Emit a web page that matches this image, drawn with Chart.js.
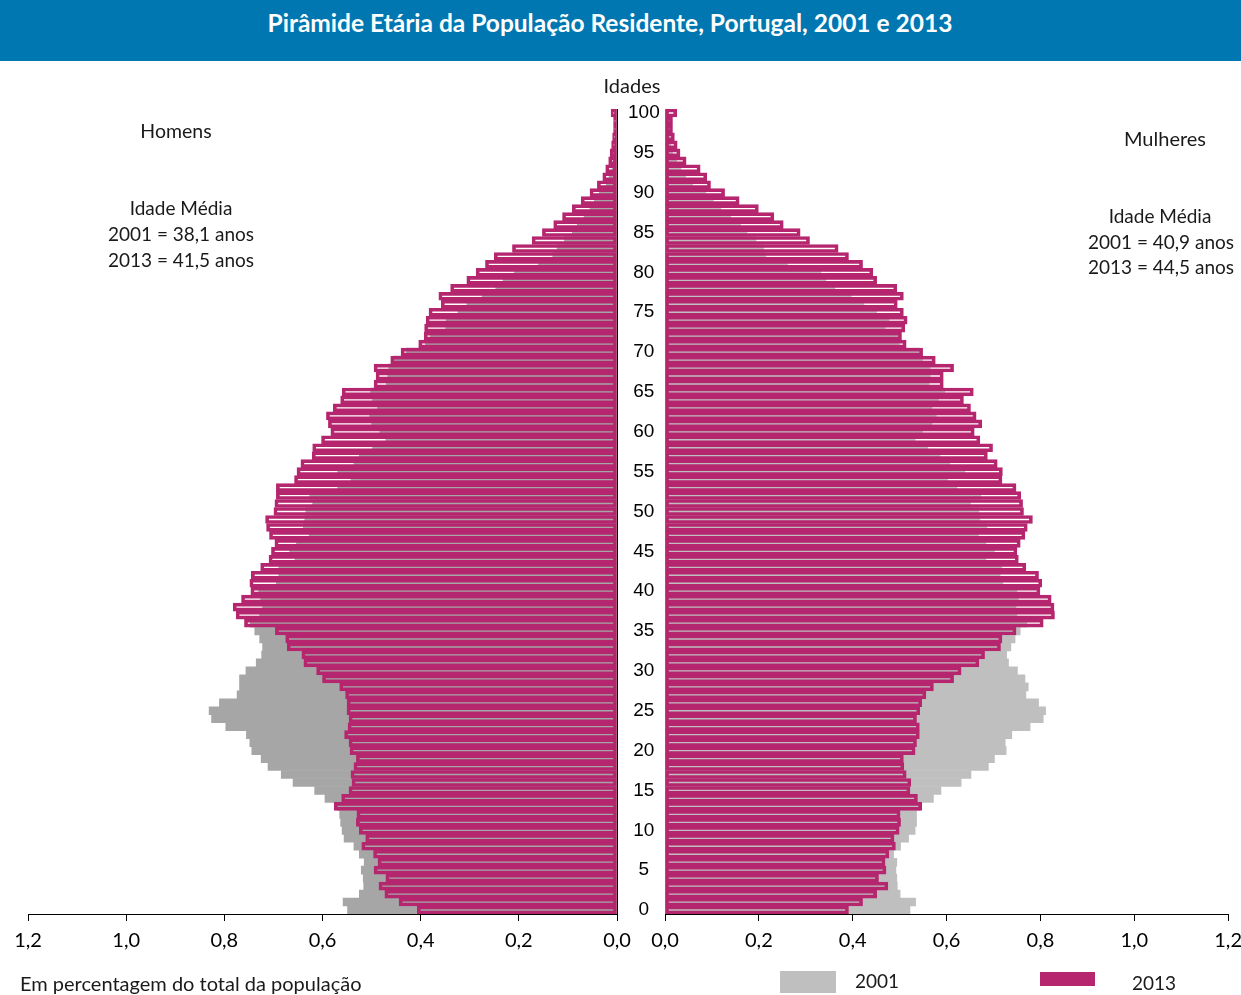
<!DOCTYPE html>
<html>
<head>
<meta charset="utf-8">
<title>Pirâmide Etária da População Residente, Portugal, 2001 e 2013</title>
<script src="https://cdn.jsdelivr.net/npm/chart.js@4.4.1/dist/chart.umd.min.js"></script>
<style>
    body { margin: 0; width: 1241px; height: 995px; position: relative; overflow: hidden; background: #fff; font-family: Lato, "Liberation Sans", sans-serif; color: #1a1a1a; }
    #titleBar { position: absolute; left: 0; top: 0; width: 1241px; height: 61px; background: #0077b1; }
    .txt { position: absolute; white-space: nowrap; line-height: 1; font-size: 19px; transform: translate(-50%, -50%); }
    .left { transform: translate(0, -50%); }
    .swatch { position: absolute; }
    canvas { position: absolute; top: 60px; }
</style>
</head>
<body>
<div id="titleBar"></div>
<div class="txt" style="left:610px;top:23px;color:#fff;font-weight:bold;font-size:24.5px;">Pirâmide Etária da População Residente, Portugal, 2001 e 2013</div>

<canvas id="homensChart" width="665" height="935" style="left:0;"></canvas>
<canvas id="mulheresChart" width="630" height="935" style="left:620px;"></canvas>

<div class="txt" style="left:632px;top:85px;font-size:20px;">Idades</div>
<div class="txt" style="left:176px;top:131px;font-size:19.5px;">Homens</div>
<div class="txt" style="left:181px;top:207px;">Idade Média</div>
<div class="txt" style="left:181px;top:233px;">2001 = 38,1 anos</div>
<div class="txt" style="left:181px;top:259px;">2013 = 41,5 anos</div>
<div class="txt" style="left:1165px;top:138px;font-size:20px;">Mulheres</div>
<div class="txt" style="left:1160px;top:215px;">Idade Média</div>
<div class="txt" style="left:1161px;top:241px;">2001 = 40,9 anos</div>
<div class="txt" style="left:1161px;top:266px;">2013 = 44,5 anos</div>

<div class="txt left" style="left:20px;top:983px;font-size:20px;">Em percentagem do total da população</div>
<div class="swatch" style="left:780px;top:971px;width:56px;height:22px;background:#bfbfbf;"></div>
<div class="txt" style="left:877px;top:980px;">2001</div>
<div class="swatch" style="left:1040px;top:972px;width:55px;height:14px;background:#b5266f;"></div>
<div class="txt" style="left:1154px;top:982px;">2013</div>

<script>
'use strict';

// idades 0..100 (a de 100 inclui 100 e mais)
var IDADES = [0, 1, 2, 3, 4, 5, 6, 7, 8, 9, 10, 11, 12, 13, 14, 15, 16, 17, 18, 19, 20,
    21, 22, 23, 24, 25, 26, 27, 28, 29, 30, 31, 32, 33, 34, 35, 36, 37, 38, 39, 40,
    41, 42, 43, 44, 45, 46, 47, 48, 49, 50, 51, 52, 53, 54, 55, 56, 57, 58, 59, 60,
    61, 62, 63, 64, 65, 66, 67, 68, 69, 70, 71, 72, 73, 74, 75, 76, 77, 78, 79, 80,
    81, 82, 83, 84, 85, 86, 87, 88, 89, 90, 91, 92, 93, 94, 95, 96, 97, 98, 99, 100];

// idades com etiqueta no eixo
var IDADES_ETIQUETA = [0, 5, 10, 15, 20, 25, 30, 35, 40, 45, 50, 55, 60, 65, 70, 75, 80, 85, 90, 95, 100];

// % do total da populacao, por idade (0..100)
var HOMENS_2001 = [0.549, 0.558, 0.525, 0.516, 0.517, 0.521, 0.515, 0.525, 0.536, 0.556,
    0.560, 0.563, 0.565, 0.570, 0.595, 0.616, 0.660, 0.684, 0.711, 0.725,
    0.744, 0.748, 0.755, 0.797, 0.826, 0.831, 0.810, 0.774, 0.769, 0.769,
    0.756, 0.735, 0.724, 0.722, 0.728, 0.738, 0.747, 0.728, 0.722, 0.726,
    0.730, 0.694, 0.689, 0.689, 0.656, 0.667, 0.653, 0.627, 0.639, 0.636,
    0.634, 0.620, 0.626, 0.569, 0.542, 0.569, 0.536, 0.525, 0.498, 0.471,
    0.483, 0.500, 0.504, 0.488, 0.498, 0.502, 0.470, 0.467, 0.465, 0.454,
    0.429, 0.390, 0.380, 0.349, 0.348, 0.324, 0.306, 0.275, 0.247, 0.232,
    0.209, 0.160, 0.131, 0.122, 0.107, 0.091, 0.081, 0.067, 0.055, 0.046,
    0.036, 0.022, 0.016, 0.010, 0.008, 0.006, 0.005, 0.004, 0.003, 0.002, 0.003];

var HOMENS_2013 = [0.407, 0.444, 0.473, 0.485, 0.471, 0.495, 0.487, 0.496, 0.520, 0.512,
    0.525, 0.531, 0.530, 0.576, 0.561, 0.546, 0.540, 0.542, 0.536, 0.531,
    0.544, 0.546, 0.555, 0.548, 0.546, 0.550, 0.550, 0.553, 0.565, 0.600,
    0.612, 0.638, 0.642, 0.672, 0.675, 0.696, 0.759, 0.776, 0.782, 0.765,
    0.746, 0.748, 0.745, 0.726, 0.709, 0.704, 0.697, 0.708, 0.714, 0.716,
    0.699, 0.697, 0.694, 0.694, 0.657, 0.652, 0.644, 0.621, 0.620, 0.602,
    0.583, 0.588, 0.592, 0.578, 0.563, 0.560, 0.495, 0.491, 0.495, 0.461,
    0.440, 0.404, 0.393, 0.392, 0.389, 0.383, 0.358, 0.363, 0.339, 0.306,
    0.287, 0.268, 0.250, 0.213, 0.173, 0.152, 0.129, 0.111, 0.091, 0.073,
    0.055, 0.040, 0.029, 0.023, 0.017, 0.014, 0.011, 0.009, 0.007, 0.007, 0.012];

var MULHERES_2001 = [0.522, 0.534, 0.501, 0.495, 0.494, 0.492, 0.494, 0.487, 0.502, 0.519,
    0.533, 0.536, 0.536, 0.543, 0.572, 0.588, 0.631, 0.652, 0.689, 0.702,
    0.727, 0.725, 0.739, 0.778, 0.806, 0.811, 0.796, 0.769, 0.774, 0.767,
    0.751, 0.732, 0.728, 0.737, 0.746, 0.757, 0.771, 0.750, 0.748, 0.753,
    0.750, 0.720, 0.714, 0.718, 0.684, 0.702, 0.684, 0.668, 0.686, 0.671,
    0.669, 0.651, 0.673, 0.622, 0.602, 0.639, 0.607, 0.586, 0.560, 0.533,
    0.549, 0.569, 0.578, 0.569, 0.583, 0.596, 0.563, 0.565, 0.565, 0.549,
    0.542, 0.499, 0.497, 0.469, 0.477, 0.451, 0.424, 0.397, 0.362, 0.343,
    0.332, 0.261, 0.215, 0.210, 0.194, 0.175, 0.161, 0.140, 0.119, 0.103,
    0.087, 0.059, 0.044, 0.034, 0.025, 0.016, 0.012, 0.011, 0.008, 0.007, 0.005];

var MULHERES_2013 = [0.391, 0.421, 0.451, 0.475, 0.455, 0.471, 0.469, 0.477, 0.491, 0.488,
    0.499, 0.502, 0.501, 0.547, 0.538, 0.522, 0.524, 0.514, 0.509, 0.508,
    0.533, 0.536, 0.542, 0.542, 0.536, 0.543, 0.547, 0.556, 0.572, 0.615,
    0.631, 0.669, 0.681, 0.715, 0.718, 0.748, 0.806, 0.830, 0.829, 0.823,
    0.799, 0.803, 0.796, 0.769, 0.753, 0.750, 0.757, 0.767, 0.772, 0.783,
    0.764, 0.762, 0.758, 0.748, 0.718, 0.719, 0.708, 0.687, 0.698, 0.671,
    0.659, 0.675, 0.663, 0.651, 0.636, 0.657, 0.593, 0.593, 0.615, 0.576,
    0.549, 0.514, 0.504, 0.511, 0.516, 0.508, 0.495, 0.508, 0.494, 0.451,
    0.443, 0.421, 0.391, 0.369, 0.308, 0.288, 0.252, 0.232, 0.199, 0.158,
    0.127, 0.097, 0.089, 0.075, 0.045, 0.032, 0.026, 0.020, 0.016, 0.016, 0.025];

var MAGENTA = '#b5266f';
var CINZA_HOMENS = '#a6a6a6';
var CINZA_MULHERES = '#bfbfbf';
var FONTE = 'Lato, "Liberation Sans", sans-serif';

//formats 0.2 -> "0,2"
function formatPercent(value){
    return Number(value).toFixed(1).replace('.', ',');
}

//2013 drawn as an outline on top of the 2001 bars
function buildDatasets(dados2013, dados2001, cinza){
    var comum = {
        grouped: false,
        barPercentage: 1,
        categoryPercentage: 1
    };

    return [
        Object.assign({
            label: '2013',
            data: dados2013,
            backgroundColor: 'rgba(0,0,0,0)',
            borderColor: MAGENTA,
            borderWidth: 3,
            borderSkipped: false,
            order: 0
        }, comum),
        Object.assign({
            label: '2001',
            data: dados2001,
            backgroundColor: cinza,
            borderWidth: 0,
            order: 1
        }, comum)
    ];
}

function xScale(reverse){
    return {
        reverse: reverse,
        min: 0,
        max: 1.2,
        ticks: {
            stepSize: 0.2,
            callback: formatPercent,
            color: '#000',
            padding: 8,
            maxRotation: 0,
            font: { family: FONTE, size: 20 }
        },
        grid: { drawOnChartArea: false, drawTicks: true, tickLength: 7, color: '#000' },
        border: { color: '#000', width: 1 },
        afterFit: function(scale){ scale.height = 81; }
    };
}


/*
********************************************************************************************************************************
*/

//homens: eixo invertido, idades no lado direito
var homensChart = new Chart(document.getElementById('homensChart').getContext('2d'), {
    type: 'bar',
    data: {
        labels: IDADES,
        datasets: buildDatasets(HOMENS_2013, HOMENS_2001, CINZA_HOMENS)
    },
    options: {
        indexAxis: 'y',
        responsive: false,
        animation: false,
        layout: { padding: { left: 28, top: 49, right: 0, bottom: 0 } },
        plugins: { legend: { display: false }, tooltip: { enabled: false } },
        scales: {
            x: xScale(true),
            y: {
                position: 'right',
                reverse: true,
                ticks: {
                    autoSkip: false,
                    crossAlign: 'center',
                    color: '#000',
                    font: { family: '"Liberation Sans", Arial, sans-serif', size: 19 },
                    callback: function(value, index){
                        var idade = IDADES[index];
                        return IDADES_ETIQUETA.indexOf(idade) > -1 ? String(idade) : '';
                    }
                },
                grid: { display: false },
                border: { color: '#000', width: 1 },
                afterFit: function(scale){ scale.width = 48; }
            }
        }
    }
});

//mulheres
var mulheresChart = new Chart(document.getElementById('mulheresChart').getContext('2d'), {
    type: 'bar',
    data: {
        labels: IDADES,
        datasets: buildDatasets(MULHERES_2013, MULHERES_2001, CINZA_MULHERES)
    },
    options: {
        indexAxis: 'y',
        responsive: false,
        animation: false,
        layout: { padding: { left: 45, top: 49, right: 0, bottom: 0 } },
        plugins: { legend: { display: false }, tooltip: { enabled: false } },
        scales: {
            x: xScale(false),
            y: {
                position: 'left',
                reverse: true,
                ticks: { display: false },
                grid: { display: false },
                border: { color: '#000', width: 1 },
                afterFit: function(scale){ scale.width = 0; }
            }
        }
    }
});
</script>
</body>
</html>
